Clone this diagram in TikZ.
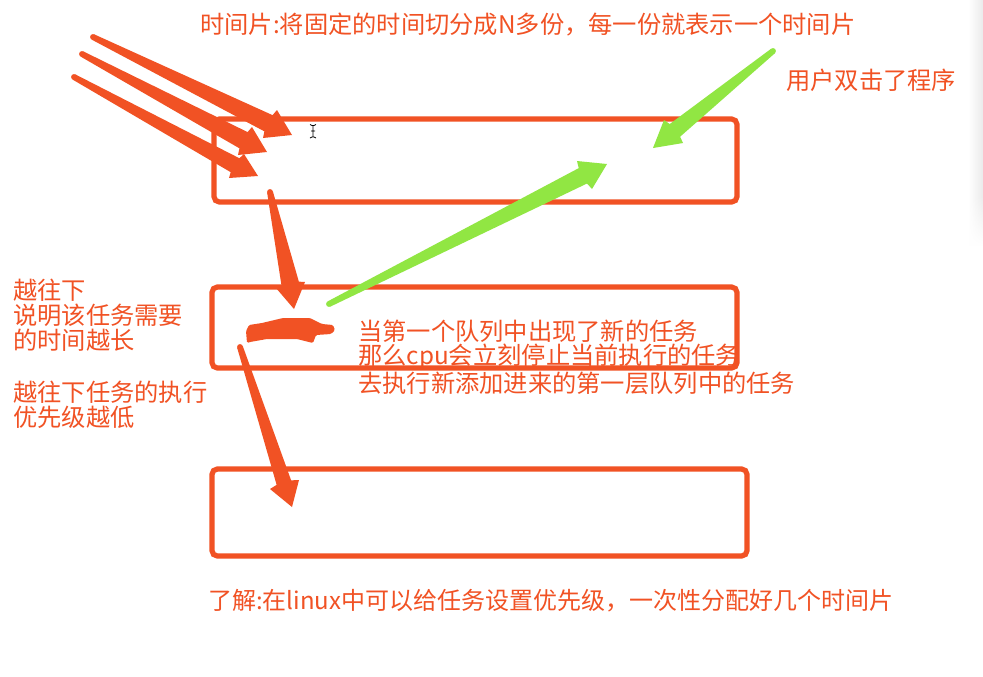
\documentclass[tikz,border=0pt]{standalone}
\usepackage{fontspec}
\setmainfont{Noto Sans CJK SC}
\usetikzlibrary{calc,fadings}
\definecolor{redo}{HTML}{F15224}
\definecolor{gren}{HTML}{91E643}
\tikzset{
  qbox/.style={draw=redo,line width=3.9pt,rounded corners=4pt},
  lbl/.style={anchor=west,inner sep=0pt,text=redo,font=\fontsize{18.2pt}{20pt}\selectfont}
}
\newcommand\taper[7]{%
  \coordinate (#1t) at (#2);
  \coordinate (#1tip) at (#3);
  \coordinate (#1l) at (#4);
  \coordinate (#1r) at (#5);
  \coordinate (#1m) at ($(#1l)!.5!(#1r)$);
  \coordinate (#1n) at ($(#1m)!3pt!(#1t)$);
  \fill[#6] (#1t) circle (2.2pt);
  \fill[#6] ($(#1t)!2.2pt!90:(#1tip)$) -- ($(#1n)!#7!(#1l)$) -- (#1l) -- (#1tip) -- (#1r)
    -- ($(#1n)!#7!(#1r)$) -- ($(#1t)!2.2pt!-90:(#1tip)$) -- cycle;
}
\begin{document}
\begin{tikzpicture}[x=0.75pt,y=-0.75pt]
\useasboundingbox (0,0) rectangle (983,676);
\fill[white] (0,0) rectangle (983,676);
\shade[left color=white,right color=black!8] (968,0) rectangle (983,245);
\fill[white,path fading=north] (967,195) rectangle (984,246);
\draw[qbox] (214,119) rectangle (737,202);
\draw[qbox] (212,287) rectangle (737,368);
\draw[qbox] (212,469) rectangle (747,556);
\taper{aa}{93,37}{292,135}{277,110}{263,138}{redo}{.58}
\taper{ab}{82,54}{267,152}{252,127}{238,155}{redo}{.58}
\taper{ac}{74,77}{258,176}{244,154}{229,178}{redo}{.58}
\taper{ad}{270,192}{294,309}{305,282}{276,288}{redo}{.6}
\taper{ae}{240,347}{292,507}{299,480}{270,489}{redo}{.5}
\taper{ga}{329,304}{607,164}{577,161}{592,189}{gren}{.55}
\taper{gb}{773,51}{653,148}{683,143}{664,120}{gren}{.55}
\fill[redo,rounded corners=1pt] (247,343) -- (246,331) -- (249,325) -- (262,323) -- (283,318) -- (310,318)
  -- (322,324) -- (333,325) -- (335,330) -- (331,334) -- (316,335) -- (313,343) -- (297,339)
  -- (267,339) -- (250,342) -- cycle;
% text cursor
\draw[black,line width=.6pt] (310,124.5) -- (312,125.5) -- (314,125.5) -- (316,124.5)
  (313,125.5) -- (313,137) (310,138) -- (312,137) -- (314,137) -- (316,138) (311,131) -- (315,131);
\node[lbl] (title) at (200,25) {时间片:将固定的时间切分成N多份，每一份就表示一个时间片};
\node[lbl] (user) at (786,80) {用户双击了程序};
\node[lbl] (l1) at (13,290) {越往下};
\node[lbl] (l2) at (13,315) {说明该任务需要};
\node[lbl] (l3) at (13,340) {的时间越长};
\node[lbl] (l4) at (13,392) {越往下任务的执行};
\node[lbl] (l5) at (13,417) {优先级越低};
\node[lbl] (m1) at (358,331) {当第一个队列中出现了新的任务};
\node[lbl] (m2) at (358,357) {那么cpu会立刻停止当前执行的任务};
\node[lbl] (m3) at (358,383) {去执行新添加进来的第一层队列中的任务};
\node[lbl,font=\fontsize{18pt}{20pt}\selectfont] (foot) at (208,601) {了解:在linux中可以给任务设置优先级，一次性分配好几个时间片};
\end{tikzpicture}
\end{document}
